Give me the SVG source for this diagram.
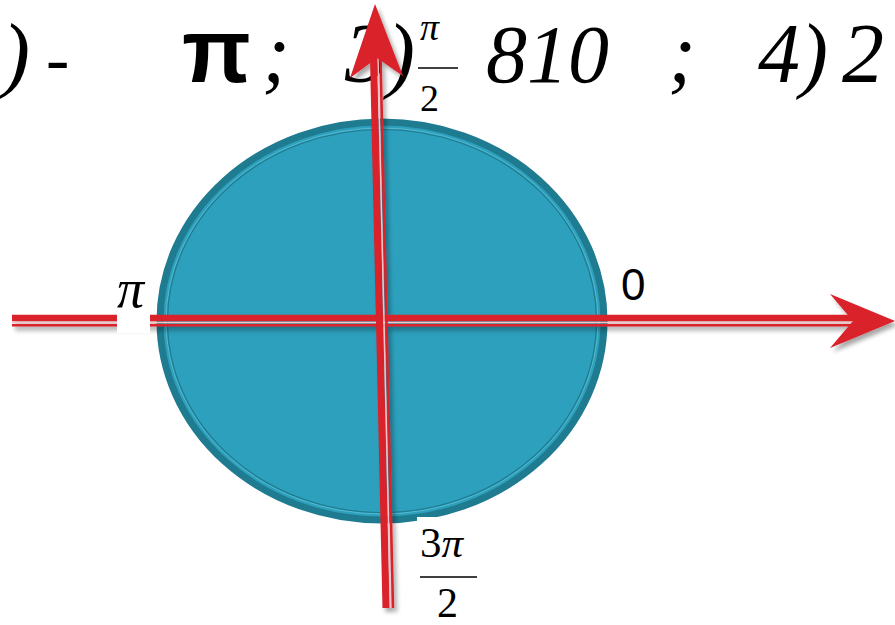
<svg xmlns="http://www.w3.org/2000/svg" width="895" height="625" viewBox="0 0 895 625">
<style>
.ti{font-family:"Liberation Serif","Times New Roman",serif;font-style:italic;fill:#000}
.tr{font-family:"Liberation Serif","Times New Roman",serif;fill:#000}
.sb{font-family:"Liberation Sans",Arial,sans-serif;font-weight:bold;fill:#000}
.ss{font-family:"Liberation Sans",Arial,sans-serif;fill:#000}
.red{stroke:#d9202a;fill:none}
.bar{stroke:#000;stroke-width:1.6}
</style>
<defs>
<filter id="sh" x="-10%" y="-10%" width="130%" height="130%">
<feDropShadow dx="3" dy="4" stdDeviation="2" flood-color="#000" flood-opacity="0.35"/>
</filter>
</defs>
<rect width="895" height="625" fill="#fff"/>
<g id="header">
<text class="ti" x="2" y="82" font-size="84">)</text>
<text class="tr" x="46" y="82" font-size="70">-</text>
<text class="sb" x="182" y="82" font-size="90">π</text>
<text class="ti" x="262" y="82" font-size="84">;</text>
<text class="ti" x="345" y="82" font-size="84">3)</text>
<text class="ti" x="420" y="40" font-size="38">π</text>
<line class="bar" x1="418" y1="68" x2="458" y2="68"/>
<text class="tr" x="420" y="111" font-size="38">2</text>
<text class="ti" x="486" y="82" font-size="82">810</text>
<text class="ti" x="668" y="82" font-size="84">;</text>
<text class="ti" x="758" y="82" font-size="84">4)</text>
<text class="ti" x="842" y="82" font-size="84">2</text>
</g>
<g id="circle">
<ellipse cx="382" cy="321" rx="222" ry="199" fill="#2ca0bd" stroke="#1f7b8f" stroke-width="7"/>
<ellipse cx="382" cy="321" rx="216" ry="193" fill="none" stroke="#58b8cf" stroke-width="1"/>
<ellipse cx="382" cy="321" rx="214.5" ry="191.5" fill="none" stroke="#1f7b8f" stroke-width="1.2"/>
</g>
<g id="connectors" filter="url(#sh)">
<line class="red" x1="12" y1="318" x2="856" y2="318" stroke-width="6.5"/>
<line x1="12" y1="322.5" x2="856" y2="322.5" stroke="#f2c4c6" stroke-width="1.5"/>
<line class="red" x1="12" y1="325.3" x2="856" y2="325.3" stroke-width="2.6"/>
<polygon points="830,294 895,321 830,348 853,321" fill="#d9202a"/>
<line class="red" x1="373.5" y1="58" x2="386" y2="608" stroke-width="7"/>
<line x1="378" y1="58" x2="390.5" y2="608" stroke="#f2c4c6" stroke-width="1.5"/>
<line class="red" x1="380.5" y1="58" x2="393" y2="608" stroke-width="2.5"/>
<polygon points="375,4 403,76 377,58 350,78" fill="#d9202a"/>
</g>
<g id="label-pi">
<rect x="117" y="272" width="33" height="61" fill="#fff"/>
<text class="ti" x="117" y="307" font-size="54">π</text>
</g>
<g id="label-0">
<text class="ss" x="621" y="300" font-size="44">0</text>
</g>
<g id="label-3pi2">
<rect x="417" y="517" width="62" height="108" fill="#fff"/>
<text class="tr" x="420" y="557" font-size="43">3<tspan font-style="italic">π</tspan></text>
<line class="bar" x1="420" y1="577" x2="477" y2="577"/>
<text class="tr" x="437" y="617" font-size="42">2</text>
</g>
</svg>
